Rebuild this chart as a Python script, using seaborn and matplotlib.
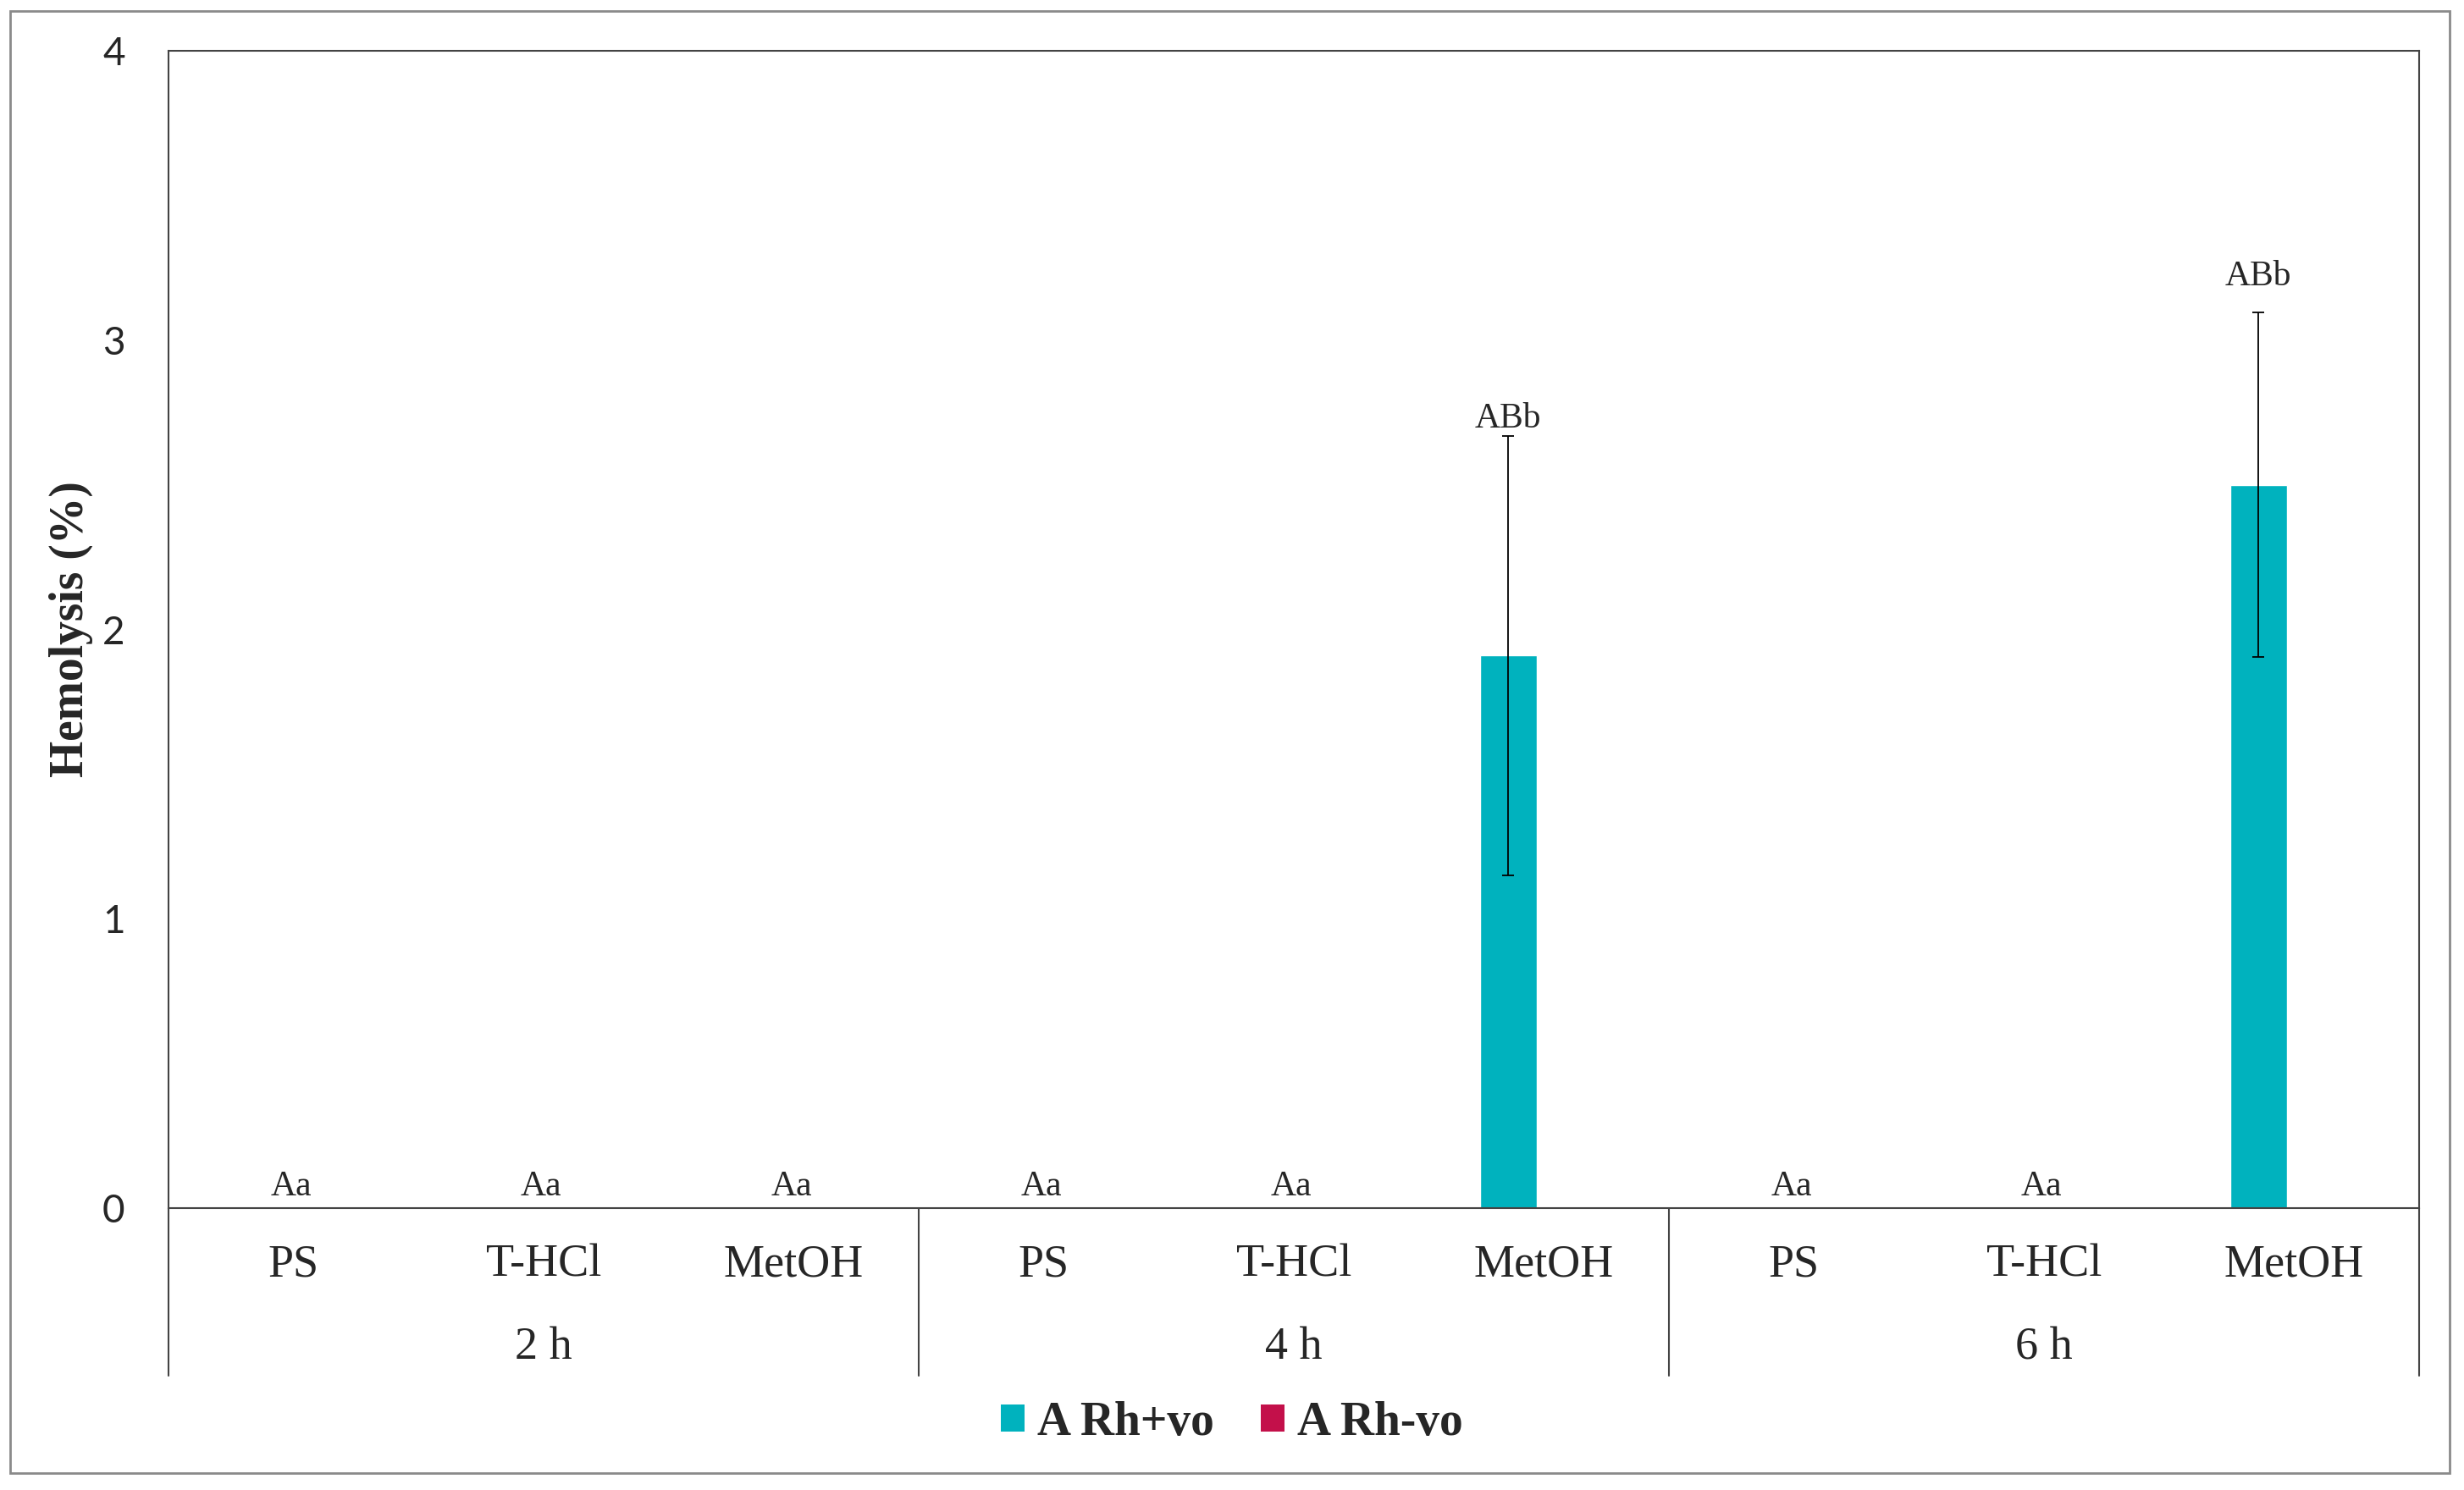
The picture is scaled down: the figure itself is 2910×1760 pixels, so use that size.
import pandas as pd
import seaborn as sns
import matplotlib.pyplot as plt
from matplotlib.patches import Rectangle, Patch
import matplotlib.transforms as mtransforms

# Data
times = ["2 h", "4 h", "6 h"]
treatments = ["PS", "T-HCl", "MetOH"]
groups = ["A Rh+vo", "A Rh-vo"]
rh_pos_mean = [0, 0, 0, 0, 0, 1.91, 0, 0, 2.50]
rh_pos_sd = [0, 0, 0, 0, 0, 0.76, 0, 0, 0.595]
rh_neg_mean = [0, 0, 0, 0, 0, 0, 0, 0, 0]
rh_neg_sd = [0, 0, 0, 0, 0, 0, 0, 0, 0]
letters = ["Aa", "Aa", "Aa", "Aa", "Aa", "ABb", "Aa", "Aa", "ABb"]

colors = {"A Rh+vo": "#00B2BE", "A Rh-vo": "#C3104A"}

keys = [f"{t} {tr}" for t in times for tr in treatments]
df = pd.DataFrame({
    "key": keys * 2,
    "group": [groups[0]] * 9 + [groups[1]] * 9,
    "value": rh_pos_mean + rh_neg_mean,
})

sns.set_style("white")
plt.rcParams['font.family'] = ['Liberation Serif', 'DejaVu Serif']

fig, ax = plt.subplots(figsize=(29.1, 17.6), dpi=100)
fig.subplots_adjust(left=0.0684, right=0.9818, top=0.9659, bottom=0.1892)

sns.barplot(data=df, x="key", y="value", hue="group", order=keys,
            hue_order=groups, palette=colors, width=0.57, gap=0.21,
            errorbar=None, saturation=1, legend=False, ax=ax)

# error bars on the Rh+ bars
bars = ax.containers[0]
xs = [p.get_x() + p.get_width() / 2 for p in bars]
ex = [x for x, s in zip(xs, rh_pos_sd) if s > 0]
ey = [m for m, s in zip(rh_pos_mean, rh_pos_sd) if s > 0]
es = [s for s in rh_pos_sd if s > 0]
ax.errorbar(ex, ey, yerr=es, fmt='none', ecolor='black', elinewidth=1.3,
            capsize=5, capthick=1.3, zorder=5)

# significance letters
top_pad = {5: 7, 8: 23}
for i, lab in enumerate(letters):
    if rh_pos_sd[i] > 0:
        ax.annotate(lab, (xs[i], rh_pos_mean[i] + rh_pos_sd[i]), xytext=(0, top_pad[i]),
                    textcoords='offset points', ha='center', va='baseline', fontsize=30)
    else:
        ax.annotate(lab, (i, 0), xytext=(-2, 11), textcoords='offset points',
                    ha='center', va='baseline', fontsize=30)

ax.set_ylim(0, 4)
ax.set_xlim(-0.5, 8.5)
ax.set_yticks([0, 1, 2, 3, 4])
ax.set_yticklabels(["0", "1", "2", "3", "4"], family=['Lato', 'DejaVu Sans'], fontsize=33)
ax.set_xticks(range(9))
ax.set_xticklabels(treatments * 3, fontsize=39)
ax.tick_params(axis='y', length=0, pad=37)
ax.tick_params(axis='x', length=0, pad=30)
ax.set_xlabel("")

ax.set_ylabel("Hemolysis (%)", fontsize=40, fontweight='bold')
ax.yaxis.set_label_coords(-0.0433, 0.5)
ax.yaxis.label.set_va('center')

for s in ax.spines.values():
    s.set_visible(True)
    s.set_color('#444444')
    s.set_linewidth(1.5)

# group labels and dividers below the axis
trans = mtransforms.blended_transform_factory(ax.transData, ax.transAxes)
for g, t in enumerate(times):
    ax.text(3 * g + 1, -0.1207, t, transform=trans, ha='center', va='center', fontsize=39)
for xd in [-0.5, 2.5, 5.5, 8.5]:
    ax.plot([xd, xd], [0, -0.145], transform=trans, color='#444444', lw=1.5, clip_on=False)

# legend
handles = [Patch(facecolor=colors[g], edgecolor='none') for g in groups]
fig.legend(handles, groups, loc='center', bbox_to_anchor=(0.5, 0.0449), ncol=2,
           frameon=False, prop={'family': 'Liberation Serif', 'weight': 'bold', 'size': 40},
           handlelength=0.5, handleheight=0.5, handletextpad=0.27, columnspacing=1.0)

# outer frame
fig.patches.append(Rectangle((12 / 2910, 20 / 1760), (2893 - 12) / 2910, (1740 - 13) / 1760,
                             transform=fig.transFigure, fill=False, edgecolor='#8a8a8a', lw=2))

fig.savefig("out.png", dpi=100)
